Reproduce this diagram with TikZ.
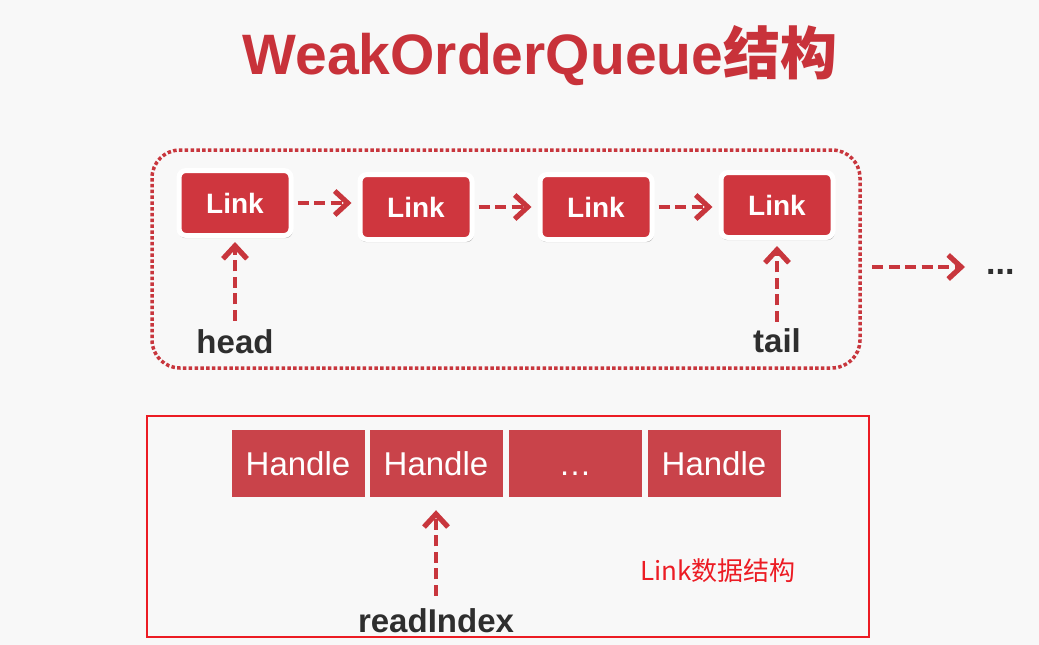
\documentclass[tikz,border=0pt]{standalone}
\usepackage{fontspec}
\setmainfont{Liberation Sans}
\newfontfamily\cjk{Noto Sans CJK SC}
\usetikzlibrary{arrows.meta,shadows}
\definecolor{titlered}{HTML}{C8323A}
\definecolor{linkred}{HTML}{CF363E}
\definecolor{arrowred}{HTML}{C8363D}
\definecolor{handlered}{HTML}{C9434A}
\definecolor{brightred}{HTML}{EC1C24}
\definecolor{darktext}{HTML}{2E2E2E}
\definecolor{bg}{HTML}{F8F8F8}
\tikzset{
  linkbox/.style={fill=linkred, draw=white, line width=5pt, rounded corners=7pt,
    minimum width=112pt, minimum height=65pt, inner sep=0pt, text=white,
    font=\fontsize{28}{30}\selectfont\bfseries,
    drop shadow={shadow xshift=0.5pt, shadow yshift=-2pt, shadow scale=1.02, opacity=0.28, fill=black}},
  handlebox/.style={fill=handlered, minimum width=133pt, minimum height=67pt,
    inner sep=0pt, text=white, font=\fontsize{33}{35}\selectfont,
    text height=24pt, text depth=0pt},
  ptr/.style={arrowred, line width=4pt, dash pattern=on 11pt off 5.5pt,
    -{Straight Barb[length=13pt,width=24pt,line width=0pt 1.3]}},
  lbl/.style={text=darktext, font=\fontsize{33}{35}\selectfont\bfseries, inner sep=0pt, anchor=base},
}
\begin{document}
\begin{tikzpicture}[x=1pt,y=-1pt]
\useasboundingbox[fill=bg] (0,0) rectangle (1039,645);
% title
\node[anchor=base, text=titlered, inner sep=0pt,
  font=\fontsize{57}{60}\selectfont\bfseries] (title) at (540,74) {WeakOrderQueue{\cjk 结构}};
% dotted container
\node[draw=arrowred, line width=3.5pt, dash pattern=on 3.5pt off 2.3pt, rounded corners=28pt,
  minimum width=708pt, minimum height=218pt] (queue) at (506,259) {};
% links
\node[linkbox] (l1) at (235,203) {Link};
\node[linkbox] (l2) at (416,207) {Link};
\node[linkbox] (l3) at (596,207) {Link};
\node[linkbox] (l4) at (777,205) {Link};
\draw[ptr, shorten <=4pt, shorten >=6pt] (l1.east) -- (l2.west |- l1.east);
\draw[ptr, shorten <=4pt, shorten >=6pt] (l2.east) -- (l3.west);
\draw[ptr, shorten <=4pt, shorten >=6pt] (l3.east) -- (l4.west |- l3.east);
% head / tail
\node[lbl] (head) at (235,353) {head};
\node[lbl] (tail) at (777,352) {tail};
\draw[ptr, shorten <=8pt, shorten >=4pt] (head.north) -- (l1.south);
\draw[ptr, shorten <=6pt, shorten >=6pt] (tail.north) -- (l4.south);
% outer arrow
\coordinate (o1) at (872,267);
\node[anchor=base west, inner sep=0pt, text=darktext,
  font=\fontsize{34}{36}\selectfont\bfseries] (dots) at (986,274) {...};
\draw[ptr] (o1) -- ([xshift=-21pt]dots.west |- o1);
% link structure box
\node[draw=brightred, line width=2.5pt, minimum width=722pt, minimum height=221pt,
  inner sep=0pt] (frame) at (508,526.5) {};
\node[handlebox] (h1) at (298,463.5) {Handle};
\node[handlebox] (h2) at (436,463.5) {Handle};
\node[handlebox] (h3) at (575,463.5) {\dots};
\node[handlebox] (h4) at (714,463.5) {Handle};
\node[lbl] (ri) at (436,632) {readIndex};
\draw[ptr, shorten <=12pt, shorten >=13pt] (ri.north) -- (h2.south);
\node[anchor=base west, inner sep=0pt, text=brightred,
  font=\cjk\fontsize{26}{28}\selectfont] (cap) at (640,580) {Link数据结构};
\end{tikzpicture}
\end{document}
